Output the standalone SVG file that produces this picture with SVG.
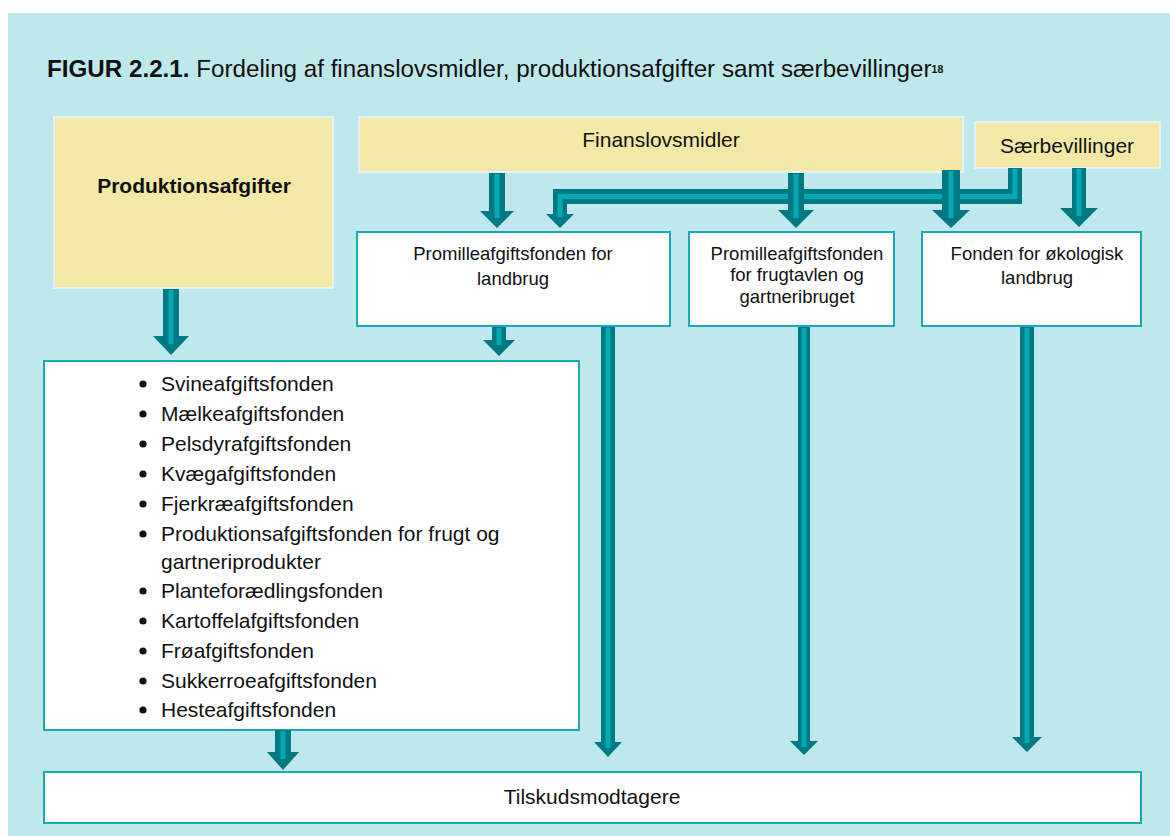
<svg xmlns="http://www.w3.org/2000/svg" width="1170" height="836" viewBox="0 0 1170 836">
<style>
text{font-family:"Liberation Sans",Arial,sans-serif;fill:#111;}
.yel{fill:#f3e8a6;stroke:#e4f4f4;stroke-width:2;}
.wht{fill:#fff;stroke:#17aab6;stroke-width:2;}
.t21{font-size:21px;}
.t18{font-size:18.5px;}
.ad{fill:#007a82;}
.al{fill:none;stroke:#00a9b6;stroke-width:5;}
</style>
<rect x="0" y="0" width="1170" height="836" fill="#fff"/>
<rect x="8" y="13" width="1162" height="823" fill="#bfe8ec"/>
<text x="47" y="77" style="font-size:24.2px"><tspan font-weight="bold">FIGUR 2.2.1.</tspan> Fordeling af finanslovsmidler, produktionsafgifter samt særbevillinger<tspan font-weight="bold" font-size="10.5px" dy="-4">18</tspan></text>

<g id="produktionsafgifter">
<rect class="yel" x="54" y="117" width="279" height="171"/>
<text class="t21" x="194" y="193" text-anchor="middle" font-weight="bold">Produktionsafgifter</text>
</g>
<g id="finanslovsmidler">
<rect class="yel" x="359" y="117" width="604" height="55"/>
<text class="t21" x="661" y="147" text-anchor="middle">Finanslovsmidler</text>
</g>
<g id="saerbevillinger">
<rect class="yel" x="975" y="122" width="185" height="46"/>
<text class="t21" x="1067" y="153" text-anchor="middle">Særbevillinger</text>
</g>
<g id="promille-landbrug">
<rect class="wht" x="357" y="232" width="313" height="94"/>
<text class="t18" x="513" y="260" text-anchor="middle">Promilleafgiftsfonden for</text>
<text class="t18" x="513" y="285" text-anchor="middle">landbrug</text>
</g>
<g id="promille-frugt">
<rect class="wht" x="689" y="232" width="205" height="94"/>
<text class="t18" x="797" y="260" text-anchor="middle">Promilleafgiftsfonden</text>
<text class="t18" x="797" y="281" text-anchor="middle">for frugtavlen og</text>
<text class="t18" x="797" y="303" text-anchor="middle">gartneribruget</text>
</g>
<g id="oekologisk">
<rect class="wht" x="922" y="232" width="219" height="94"/>
<text class="t18" x="1037" y="260" text-anchor="middle">Fonden for økologisk</text>
<text class="t18" x="1037" y="284" text-anchor="middle">landbrug</text>
</g>
<g id="fonde-liste">
<rect class="wht" x="44" y="361" width="535" height="369"/>
<g fill="#111">
<circle cx="143" cy="384" r="3.6"/><circle cx="143" cy="414" r="3.6"/><circle cx="143" cy="444" r="3.6"/>
<circle cx="143" cy="474" r="3.6"/><circle cx="143" cy="504" r="3.6"/><circle cx="143" cy="534" r="3.6"/>
<circle cx="143" cy="591" r="3.6"/><circle cx="143" cy="621" r="3.6"/><circle cx="143" cy="651" r="3.6"/>
<circle cx="143" cy="681" r="3.6"/><circle cx="143" cy="710" r="3.6"/>
</g>
<text class="t21" x="161" y="391">Svineafgiftsfonden</text>
<text class="t21" x="161" y="421">Mælkeafgiftsfonden</text>
<text class="t21" x="161" y="451">Pelsdyrafgiftsfonden</text>
<text class="t21" x="161" y="481">Kvægafgiftsfonden</text>
<text class="t21" x="161" y="511">Fjerkræafgiftsfonden</text>
<text class="t21" x="161" y="541">Produktionsafgiftsfonden for frugt og</text>
<text class="t21" x="161" y="569">gartneriprodukter</text>
<text class="t21" x="161" y="598">Planteforædlingsfonden</text>
<text class="t21" x="161" y="628">Kartoffelafgiftsfonden</text>
<text class="t21" x="161" y="658">Frøafgiftsfonden</text>
<text class="t21" x="161" y="688">Sukkerroeafgiftsfonden</text>
<text class="t21" x="161" y="717">Hesteafgiftsfonden</text>
</g>
<g id="tilskudsmodtagere">
<rect class="wht" x="44" y="772" width="1097" height="51"/>
<text class="t21" x="592" y="804" text-anchor="middle">Tilskudsmodtagere</text>
</g>

<g id="connectors">
<!-- bent arrow Særbevillinger -> Promille landbrug -->
<polygon class="ad" points="1022,168 1022,204 567,204 567,214 574,214 560,228 546,214 553,214 553,189 1008,189 1008,168"/>
<polyline class="al" points="1015,169 1015,196.5 560,196.5 560,217"/>
<!-- Produktionsafgifter -> list -->
<polygon class="ad" points="163,289 179,289 179,336 189,336 171,355 153,336 163,336"/>
<line class="al" x1="171" y1="290" x2="171" y2="344"/>
<!-- Finans -> landbrug -->
<polygon class="ad" points="489,173 505,173 505,211 514,211 497,228 480,211 489,211"/>
<line class="al" x1="497" y1="174" x2="497" y2="218"/>
<!-- Finans -> frugt -->
<polygon class="ad" points="788,173 804,173 804,210 814,210 796,228 778,210 788,210"/>
<line class="al" x1="796" y1="174" x2="796" y2="218"/>
<!-- Finans -> Fonden -->
<polygon class="ad" points="942,170 960,170 960,210 970,210 951,228 932,210 942,210"/>
<line class="al" x1="951" y1="171" x2="951" y2="218"/>
<!-- Særbev -> Fonden -->
<polygon class="ad" points="1072,168 1086,168 1086,208 1098,208 1079,227 1060,208 1072,208"/>
<line class="al" x1="1079" y1="169" x2="1079" y2="216"/>
<!-- landbrug -> list -->
<polygon class="ad" points="492,327 506,327 506,340 515,340 499,356 483,340 492,340"/>
<line class="al" x1="499" y1="328" x2="499" y2="345"/>
<!-- landbrug -> Tilskud -->
<polygon class="ad" points="601,327 615,327 615,742 622,742 608,757 594,742 601,742"/>
<line class="al" x1="608" y1="328" x2="608" y2="748"/>
<!-- frugt -> Tilskud -->
<polygon class="ad" points="798,327 810,327 810,741 818,741 804,755 790,741 798,741"/>
<line class="al" x1="804" y1="328" x2="804" y2="747"/>
<!-- Fonden -> Tilskud -->
<polygon class="ad" points="1020,327 1034,327 1034,737 1042,737 1027,752 1012,737 1020,737"/>
<line class="al" x1="1027" y1="328" x2="1027" y2="743"/>
<!-- list -> Tilskud -->
<polygon class="ad" points="275,730 291,730 291,752 299,752 283,770 267,752 275,752"/>
<line class="al" x1="283" y1="731" x2="283" y2="759"/>
</g>
</svg>
